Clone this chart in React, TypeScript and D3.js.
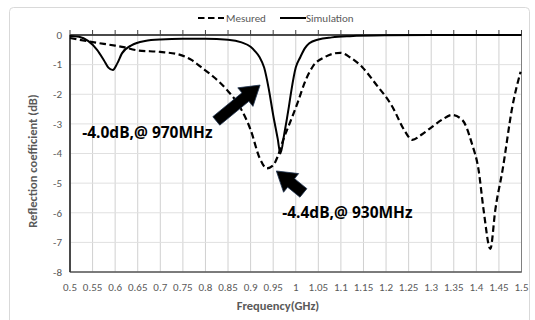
import * as d3 from "d3";

// frequency (GHz) and reflection coefficient (dB)
const measuredFreq = [0.5, 0.55, 0.6, 0.615, 0.65, 0.7, 0.744, 0.77, 0.79, 0.817, 0.848, 0.877, 0.9, 0.92, 0.936, 0.95, 0.96, 0.972, 0.99, 1.005, 1.02, 1.037, 1.065, 1.099, 1.12, 1.147, 1.176, 1.214, 1.24, 1.258, 1.28, 1.302, 1.325, 1.346, 1.369, 1.39, 1.405, 1.416, 1.431, 1.442, 1.458, 1.48, 1.498];
const measuredDb = [-0.1, -0.24, -0.36, -0.4, -0.52, -0.57, -0.67, -0.85, -1.08, -1.4, -1.86, -2.45, -3.2, -4.15, -4.5, -4.4, -4.1, -3.55, -2.85, -2.25, -1.6, -1.08, -0.74, -0.6, -0.75, -1.08, -1.63, -2.42, -3.2, -3.54, -3.35, -3.1, -2.85, -2.7, -2.87, -3.66, -4.56, -5.9, -7.22, -5.9, -4.56, -2.4, -1.24];

const simFreq = [0.5, 0.52, 0.54, 0.56, 0.575, 0.585, 0.595, 0.605, 0.615, 0.637, 0.666, 0.7, 0.75, 0.8, 0.85, 0.88, 0.9, 0.91, 0.92, 0.93, 0.94, 0.95, 0.96, 0.966, 0.975, 0.985, 0.99, 1.0, 1.01, 1.02, 1.03, 1.05, 1.08, 1.12, 1.2, 1.3, 1.5];
const simDb = [-0.03, -0.06, -0.2, -0.5, -0.85, -1.1, -1.18, -0.95, -0.62, -0.34, -0.2, -0.15, -0.13, -0.13, -0.16, -0.25, -0.4, -0.55, -0.75, -1.1, -1.8, -2.7, -3.5, -4.0, -3.3, -2.4, -1.9, -1.1, -0.75, -0.45, -0.28, -0.15, -0.08, -0.04, -0.01, 0, 0];

const xTicks = d3.range(0, 21).map((i) => 0.5 + i * 0.05);
const yTicks = [0, -1, -2, -3, -4, -5, -6, -7, -8];

// annotations: [tailF, tailDb, tipF, tipDb]
const arrows = [
    [0.824, -2.9, 0.921, -1.69],
    [1.017, -5.33, 0.957, -4.59],
];
const notes = [
    { f: 0.527, db: -3.31, text: "-4.0dB,@ 970MHz" },
    { f: 0.97, db: -6.0, text: "-4.4dB,@ 930MHz" },
];

const W = 535;
const H = 320;
const left = 70;
const right = 521.5;
const top = 35;
const bottom = 272;
const grey = "#595959";

function fmt(v: number) {
    return String(+v.toFixed(2));
}

function arrowPath(x0: number, y0: number, x1: number, y1: number) {
    const dx = x1 - x0;
    const dy = y1 - y0;
    const len = Math.hypot(dx, dy);
    const ux = dx / len;
    const uy = dy / len;
    const px = -uy;
    const py = ux;
    const shaft = 5.5;
    const head = 12;
    const headLen = 19;
    const bx = x1 - ux * headLen;
    const by = y1 - uy * headLen;
    const pts = [
        [x0 + px * shaft, y0 + py * shaft],
        [bx + px * shaft, by + py * shaft],
        [bx + px * head, by + py * head],
        [x1, y1],
        [bx - px * head, by - py * head],
        [bx - px * shaft, by - py * shaft],
        [x0 - px * shaft, y0 - py * shaft],
    ];
    return "M" + pts.map((p) => p.join(",")).join("L") + "Z";
}

export default function App() {
    const x = d3.scaleLinear().domain([0.5, 1.5]).range([left, right]);
    const y = d3.scaleLinear().domain([-8, 0]).range([bottom, top]);

    const line = d3
        .line<[number, number]>()
        .x((d) => x(d[0]))
        .y((d) => y(d[1]))
        .curve(d3.curveMonotoneX);

    const measured = line(measuredFreq.map((f, i) => [f, measuredDb[i]] as [number, number]))!;
    const sim = line(simFreq.map((f, i) => [f, simDb[i]] as [number, number]))!;

    const font = "Calibri, Carlito, 'Open Sans', 'Liberation Sans', sans-serif";
    const noteFont = "'Open Sans', 'Noto Sans', sans-serif";

    return (
        <svg width={W} height={H} style={{ position: "absolute", left: 0, top: 0, background: "#fff" }} fontFamily={font}>
            <rect x={9.5} y={7.5} width={520} height={330} rx={4} fill="#fff" stroke="#d9d9d9" />
            {/* grid */}
            {xTicks.map((t) => (
                <line key={"gx" + t} x1={x(t)} x2={x(t)} y1={top} y2={bottom} stroke="#d0d0d0" />
            ))}
            {yTicks.map((t) => (
                <line key={"gy" + t} x1={left} x2={right} y1={y(t)} y2={y(t)} stroke="#e0e0e0" />
            ))}
            <rect x={left} y={top} width={right - left} height={bottom - top} fill="none" stroke="#808080" />
            {/* axes */}
            <line x1={left} x2={left} y1={top} y2={bottom} stroke="#262626" strokeWidth={1.5} />
            <line x1={left} x2={right} y1={bottom} y2={bottom} stroke="#404040" strokeWidth={1.2} />
            <line x1={left} x2={right} y1={y(0)} y2={y(0)} stroke="#262626" strokeWidth={1.5} />
            {xTicks.map((t) => (
                <line key={"tk" + t} x1={x(t)} x2={x(t)} y1={y(0) - 5} y2={y(0)} stroke="#404040" />
            ))}
            {/* tick labels */}
            {yTicks.map((t) => (
                <text key={"yl" + t} x={left - 8} y={y(t)} dy="0.35em" textAnchor="end" fontSize={11} fill={grey}>
                    {t}
                </text>
            ))}
            {xTicks.map((t) => (
                <text key={"xl" + t} x={x(t)} y={bottom + 15} dy="0.35em" textAnchor="middle" fontSize={11} fill={grey}>
                    {fmt(t)}
                </text>
            ))}
            {/* series */}
            <path d={measured} fill="none" stroke="#000" strokeWidth={2.2} strokeDasharray="6.5,3.5" />
            <path d={sim} fill="none" stroke="#000" strokeWidth={2} />
            {/* annotations */}
            {arrows.map((a, i) => (
                <path key={"ar" + i} d={arrowPath(x(a[0]), y(a[1]), x(a[2]), y(a[3]))} fill="#000" stroke="#1f3350" strokeWidth={0.8} />
            ))}
            {notes.map((n) => (
                <text key={n.text} x={x(n.f)} y={y(n.db)} dy="0.35em" fontSize={15.5} fontWeight="bold" fill="#000" fontFamily={noteFont}>
                    {n.text}
                </text>
            ))}
            {/* titles */}
            <text x={278} y={306} dy="0.35em" textAnchor="middle" fontSize={12.5} fontWeight="bold" fill={grey}>
                Frequency(GHz)
            </text>
            <text transform={`translate(33,161) rotate(-90)`} dy="0.35em" textAnchor="middle" fontSize={12.5} fontWeight="bold" fill={grey}>
                Reflection coefficient (dB)
            </text>
            {/* legend */}
            <line x1={198} x2={224} y1={18} y2={18} stroke="#000" strokeWidth={2.2} strokeDasharray="6.5,3.5" />
            <text x={226} y={18} dy="0.35em" fontSize={11} fill={grey}>
                Mesured
            </text>
            <line x1={280} x2={306} y1={18} y2={18} stroke="#000" strokeWidth={2} />
            <text x={306} y={18} dy="0.35em" fontSize={11} fill={grey}>
                Simulation
            </text>
        </svg>
    );
}
